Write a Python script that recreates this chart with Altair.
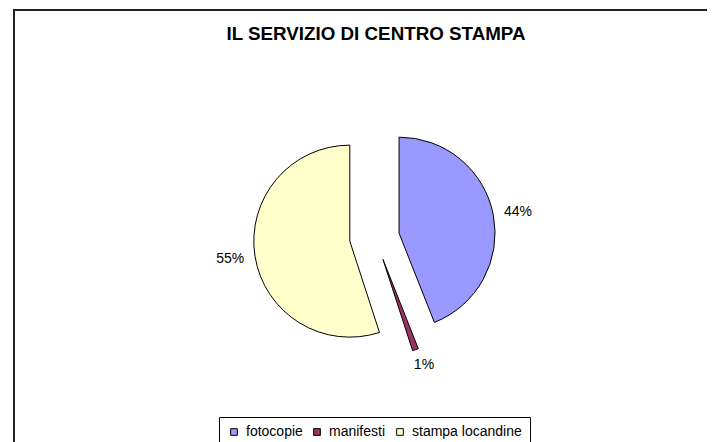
import math
import altair as alt
import pandas as pd

# ---- data ----
categories = ["fotocopie", "manifesti", "stampa locandine"]
percentages = [44, 1, 55]
labels = ["44%", "1%", "55%"]
colors = ["#9999FF", "#993366", "#FFFFCC"]
title_text = "IL SERVIZIO DI CENTRO STAMPA"

# ---- layout ----
W, H = 699, 434
CX, CY = 366.5, 229.5
R = 96
EXPLODE = 25
LABEL_R = 121
SQUASH = 0.93
FONT = "Liberation Sans"

df = pd.DataFrame({
    "order": list(range(len(categories))),
    "category": categories,
    "pct": percentages,
    "label": labels,
})

base = (
    alt.Chart(df)
    .transform_window(end="sum(pct)", sort=[alt.SortField("order")], frame=[None, 0])
    .transform_calculate(start="datum.end - datum.pct")
    .transform_calculate(mid="(datum.start + datum.end) / 2 * 2 * PI / 100")
    .transform_calculate(
        ex=f"{CX} + {EXPLODE} * sin(datum.mid)",
        ey=f"{CY} - {EXPLODE} * {SQUASH} * cos(datum.mid)",
    )
    .transform_calculate(
        lx=f"datum.ex + {LABEL_R} * sin(datum.mid)",
        ly=f"datum.ey - {LABEL_R} * {SQUASH} * cos(datum.mid)",
    )
)

arcs = base.mark_arc(outerRadius=R, stroke="black", strokeWidth=1).encode(
    x=alt.X("ex:Q", scale=None, axis=None),
    y=alt.Y("ey:Q", scale=None, axis=None),
    theta=alt.Theta("start:Q", stack=None,
                    scale=alt.Scale(domain=[0, 100], range=[0, 2 * math.pi])),
    theta2=alt.Theta2("end:Q"),
    color=alt.Color(
        "category:N",
        scale=alt.Scale(domain=categories, range=colors),
        sort=categories,
        legend=alt.Legend(
            title=None,
            orient="none",
            direction="horizontal",
            legendX=211,
            legendY=409,
            strokeColor="black",
            fillColor="white",
            padding=8,
            labelFont=FONT,
            labelFontSize=14,
            labelColor="black",
            symbolType="square",
            symbolSize=45,
            symbolStrokeColor="black",
            symbolStrokeWidth=1,
            labelOffset=5,
            columnPadding=7,
        ),
    ),
)

texts = base.mark_text(font=FONT, fontSize=14, color="black",
                       align="center", baseline="middle").encode(
    x=alt.X("lx:Q", scale=None, axis=None),
    y=alt.Y("ly:Q", scale=None, axis=None),
    text="label:N",
)

title = alt.Chart(pd.DataFrame({"t": [title_text]})).mark_text(
    font=FONT, fontSize=18.8, fontWeight="bold", color="black",
    align="center", baseline="middle",
).encode(x=alt.value(368), y=alt.value(26), text="t:N")

border_top = alt.Chart(pd.DataFrame({"a": [0]})).mark_rule(
    color="#222222", strokeWidth=2
).encode(x=alt.value(6), x2=alt.value(W), y=alt.value(2))

border_left = alt.Chart(pd.DataFrame({"a": [0]})).mark_rule(
    color="#222222", strokeWidth=2
).encode(x=alt.value(6), y=alt.value(1), y2=alt.value(H))

chart = (
    alt.layer(border_top, border_left, arcs, texts, title)
    .properties(width=W, height=H, padding=0,
                autosize=alt.AutoSizeParams(type="none"),
                background="white")
    .configure_view(stroke=None)
)

chart.save("out.html", embed_options={"renderer": "svg", "actions": False})
